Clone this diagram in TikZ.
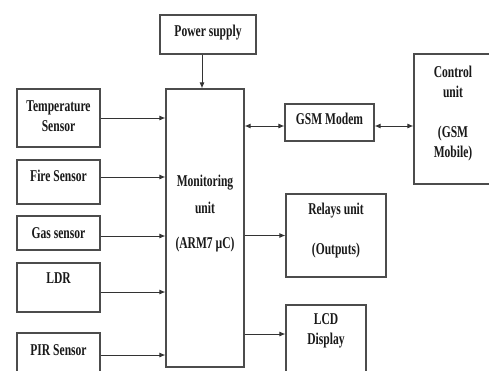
\documentclass[tikz,border=0pt]{standalone}
\usepackage{fontspec}
\setmainfont{Liberation Serif}[FakeStretch=0.7]
\usetikzlibrary{arrows.meta}
\tikzset{
  blk/.style={draw=black!70, line width=1.1pt, inner sep=0pt, fill=none},
  lbl/.style={font=\fontsize{16.5}{20}\selectfont\bfseries, text=black!90, inner sep=0pt, align=center},
  arr/.style={draw=black!80, line width=1pt, -{Latex[length=6pt,width=5pt]}},
  darr/.style={draw=black!80, line width=1pt, {Latex[length=6pt,width=5pt]}-{Latex[length=6pt,width=5pt]}}
}
\begin{document}
\begin{tikzpicture}[x=1pt, y=-1pt]
\useasboundingbox (0,0) rectangle (489,370);
\clip (0,0) rectangle (489,370);
\fill[white] (0,0) rectangle (489,370);

% blocks
\node[blk, minimum width=96pt, minimum height=39pt]  (power) at (208,34.5) {};
\node[blk, minimum width=78pt, minimum height=278pt] (mon)   at (205,228) {};
\node[blk, minimum width=83pt, minimum height=58pt]  (temp)  at (58.5,118) {};
\node[blk, minimum width=83pt, minimum height=44pt]  (fire)  at (58.5,182) {};
\node[blk, minimum width=83pt, minimum height=34pt]  (gas)   at (58.5,233) {};
\node[blk, minimum width=83pt, minimum height=49pt]  (ldr)   at (58.5,287.5) {};
\node[blk, minimum width=83pt, minimum height=44pt]  (pir)   at (58.5,355) {};
\node[blk, minimum width=89pt, minimum height=37pt]  (gsm)   at (329.5,122.5) {};
\node[blk, minimum width=80pt, minimum height=130pt] (ctrl)  at (454,119) {};
\node[blk, minimum width=100pt, minimum height=83pt] (relay) at (336,235.5) {};
\node[blk, minimum width=80pt, minimum height=75pt]  (lcd)   at (326,342.5) {};

% labels
\node[lbl] (tpower) at (208,33) {Power supply};
\node[lbl] (tmon1) at (205,183) {Monitoring};
\node[lbl] (tmon2) at (205,208) {unit};
\node[lbl] (tmon3) at (205,245) {(ARM7 µC)};
\node[lbl] (ttemp) at (58.5,116) {Temperature\\Sensor};
\node[lbl] (tfire) at (58.5,176) {Fire Sensor};
\node[lbl] (tgas)  at (58.5,233) {Gas sensor};
\node[lbl] (tldr)  at (58.5,278) {LDR};
\node[lbl] (tpir)  at (58.5,350) {PIR Sensor};
\node[lbl] (tgsm)  at (329.5,119) {GSM Modem};
\node[lbl] (tctrl1) at (453,82) {Control\\unit};
\node[lbl] (tctrl2) at (453,144) {(GSM\\Mobile)};
\node[lbl] (trel1) at (336,211) {Relays unit};
\node[lbl] (trel2) at (336,251) {(Outputs)};
\node[lbl] (tlcd)  at (326,331) {LCD\\Display};

% connectors
\draw[arr] ([xshift=-3pt]mon.north |- power.south) -- ([xshift=-3pt]mon.north);
\draw[arr] (temp.east) -- (temp.east -| mon.west);
\draw[arr] ([yshift=5pt]fire.east) -- ([yshift=5pt]fire.east -| mon.west);
\draw[arr] ([yshift=-3pt]gas.east) -- ([yshift=-3pt]gas.east -| mon.west);
\draw[arr] ([yshift=-4.5pt]ldr.east) -- ([yshift=-4.5pt]ldr.east -| mon.west);
\draw[arr] (pir.east) -- (pir.east -| mon.west);
\draw[darr] ([yshift=-3.5pt]gsm.west -| mon.east) -- ([yshift=-3.5pt]gsm.west);
\draw[darr] ([yshift=-3.5pt]gsm.east) -- ([yshift=-3.5pt]gsm.east -| ctrl.west);
\draw[arr] (relay.west -| mon.east) -- (relay.west);
\draw[arr] ([yshift=8.5pt]lcd.west -| mon.east) -- ([yshift=8.5pt]lcd.west);
\end{tikzpicture}
\end{document}
